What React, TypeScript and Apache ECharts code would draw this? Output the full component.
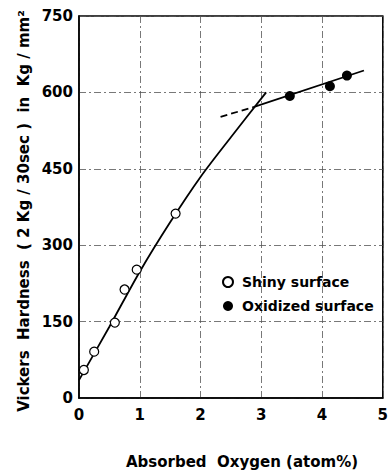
import React, { useEffect, useRef } from "react";
import * as echarts from "echarts";

const xTicks = [0, 1, 2, 3, 4, 5];
const yTicks = [0, 150, 300, 450, 600, 750];

const shinyX = [0.08, 0.25, 0.59, 0.75, 0.95, 1.59];
const shinyY = [55, 91, 148, 213, 252, 362];

const oxidX = [3.47, 4.13, 4.41];
const oxidY = [593, 612, 633];

const curveX = [0, 0.5, 1, 1.5, 2, 2.5, 3.08];
const curveY = [35, 140, 248, 345, 434, 512, 600];

const dashX = [2.33, 2.87];
const dashY = [552, 571];

const upperX = [2.87, 4.69];
const upperY = [571, 643];

const zip = (xs: number[], ys: number[]) => xs.map((x, i) => [x, ys[i]]);

const FONT = "DejaVu Sans";

export default function App() {
  const ref = useRef<HTMLDivElement>(null);
  useEffect(() => {
    if (!ref.current) return;
    const chart = echarts.init(ref.current, undefined, { renderer: "svg" });
    const gridLine = {
      show: true,
      lineStyle: { color: "#555", width: 0.8, type: [7, 3, 2, 3] as any },
    };
    chart.setOption({
      animation: false,
      backgroundColor: "#fff",
      grid: {
        left: 79,
        top: 16,
        width: 306,
        height: 382,
        show: true,
        borderColor: "#000",
        borderWidth: 1.5,
        backgroundColor: "transparent",
      },
      xAxis: {
        type: "value",
        min: xTicks[0],
        max: xTicks[xTicks.length - 1],
        interval: 1,
        axisLine: { show: true, lineStyle: { color: "#000", width: 1.5 } },
        axisTick: { show: false },
        splitLine: gridLine,
        axisLabel: {
          color: "#000",
          fontFamily: FONT,
          fontSize: 15,
          fontWeight: "bold",
          margin: 9,
          showMaxLabel: true,
          showMinLabel: true,
        },
      },
      yAxis: {
        type: "value",
        min: yTicks[0],
        max: yTicks[yTicks.length - 1],
        interval: 150,
        axisLine: { show: true, lineStyle: { color: "#000", width: 1.5 } },
        axisTick: { show: false },
        splitLine: gridLine,
        axisLabel: {
          color: "#000",
          fontFamily: FONT,
          fontSize: 15,
          fontWeight: "bold",
          margin: 6,
        },
      },
      legend: {
        data: ["Shiny surface", "Oxidized surface"],
        orient: "vertical",
        left: 217,
        top: 270,
        itemWidth: 18,
        itemHeight: 10,
        itemGap: 10,
        icon: "circle",
        textStyle: { color: "#000", fontFamily: FONT, fontSize: 14, fontWeight: "bold" },
      },
      graphic: [
        {
          type: "text",
          x: 24,
          y: 211,
          rotation: Math.PI / 2,
          style: {
            text: "Vickers  Hardness  ( 2 Kg / 30sec )  in  Kg / mm²",
            align: "center",
            verticalAlign: "middle",
            fontFamily: FONT,
            fontSize: 15,
            fontWeight: "bold",
            fill: "#000",
          },
        },
        {
          type: "text",
          x: 242,
          y: 462,
          style: {
            text: "Absorbed  Oxygen (atom%)",
            align: "center",
            verticalAlign: "middle",
            fontFamily: FONT,
            fontSize: 15,
            fontWeight: "bold",
            fill: "#000",
          },
        },
      ],
      series: [
        {
          name: "curve",
          type: "line",
          data: zip(curveX, curveY),
          showSymbol: false,
          symbol: "none",
          smooth: 0.3,
          lineStyle: { color: "#000", width: 1.8 },
          z: 2,
        },
        {
          name: "dash",
          type: "line",
          data: zip(dashX, dashY),
          symbol: "none",
          lineStyle: { color: "#000", width: 1.8, type: [7, 4] as any },
          z: 2,
        },
        {
          name: "upper",
          type: "line",
          data: zip(upperX, upperY),
          symbol: "none",
          lineStyle: { color: "#000", width: 1.8 },
          z: 2,
        },
        {
          name: "Shiny surface",
          type: "scatter",
          data: zip(shinyX, shinyY),
          symbol: "circle",
          symbolSize: 9,
          itemStyle: { color: "#fff", borderColor: "#000", borderWidth: 1.2, opacity: 1 },
          z: 3,
        },
        {
          name: "Oxidized surface",
          type: "scatter",
          data: zip(oxidX, oxidY),
          symbol: "circle",
          symbolSize: 10,
          itemStyle: { color: "#000", opacity: 1 },
          z: 3,
        },
      ],
    });
    return () => chart.dispose();
  }, []);
  return <div ref={ref} style={{ width: 391, height: 473, position: "absolute", left: 0, top: 0 }} />;
}
